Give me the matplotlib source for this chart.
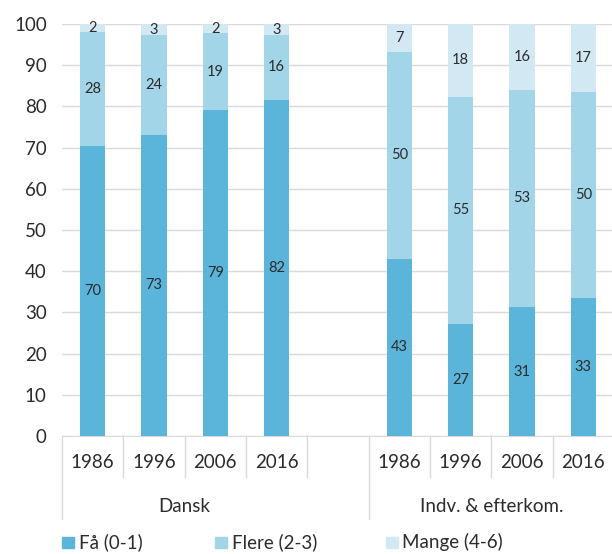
import matplotlib
matplotlib.use("Agg")
import matplotlib.pyplot as plt
from matplotlib.patches import Rectangle
from matplotlib.transforms import blended_transform_factory

plt.rcParams['font.family'] = ['Lato', 'DejaVu Sans']

years = ["1986", "1996", "2006", "2016"]
groups = ["Dansk", "Indv. & efterkom."]
series_names = ["Få (0-1)", "Flere (2-3)", "Mange (4-6)"]
colors = ["#5bb5da", "#a3d5e8", "#d2e9f3"]

# values per group, per year
dansk_faa = [70.4, 73.1, 79.1, 81.6]
dansk_flere = [27.7, 24.2, 18.7, 15.7]
dansk_mange = [1.9, 2.7, 2.2, 2.7]
indv_faa = [43.0, 27.2, 31.3, 33.4]
indv_flere = [50.2, 55.1, 52.7, 50.0]
indv_mange = [6.8, 17.7, 16.0, 16.6]

W, H = 612, 554
fig = plt.figure(figsize=(W / 100, H / 100), dpi=100)
ax = fig.add_axes([62 / W, (H - 436) / H, 552 / W, 412 / H])

positions = [0, 1, 2, 3, 5, 6, 7, 8]
faa = dansk_faa + indv_faa
flere = dansk_flere + indv_flere
mange = dansk_mange + indv_mange

text_col = "#2b2b2b"
bottom = [0] * len(positions)
for vals, col in zip([faa, flere, mange], colors):
    ax.bar(positions, vals, width=0.41, bottom=bottom, color=col, zorder=2)
    for x, b, v in zip(positions, bottom, vals):
        ax.text(x, b + v / 2, f"{v:.0f}", ha="center", va="center",
                fontsize=10.5, color=text_col, zorder=3)
    bottom = [b + v for b, v in zip(bottom, vals)]

ax.set_xlim(-0.5, 8.5)
ax.set_ylim(0, 100)
ax.set_yticks(range(0, 101, 10))
ax.tick_params(axis="y", length=0, pad=11, labelsize=13.5, labelcolor=text_col)
ax.tick_params(axis="x", length=0, labelbottom=False)
ax.set_xticks([])
ax.grid(axis="y", color="#d9d9d9", linewidth=1, zorder=0)
for s in ["left", "right", "top"]:
    ax.spines[s].set_visible(False)
ax.spines["bottom"].set_color("#d9d9d9")
ax.spines["bottom"].set_zorder(1)

trans = blended_transform_factory(ax.transData, ax.transAxes)
sep_col = "#d9d9d9"
for i in range(10):
    x = i - 0.5
    y_end = -0.2015 if x in (-0.5, 4.5, 8.5) else -0.0995
    ax.plot([x, x], [0, y_end], transform=trans, color=sep_col,
            linewidth=1, clip_on=False)

for x, y in zip(positions, years + years):
    ax.text(x, -0.0655, y, transform=trans, ha="center", va="center",
            fontsize=13.5, color=text_col)
ax.text(1.5, -0.17, groups[0], transform=trans, ha="center", va="center",
        fontsize=13.5, color=text_col)
ax.text(6.5, -0.17, groups[1], transform=trans, ha="center", va="center",
        fontsize=13.5, color=text_col)

# legend
sq_x = [62, 215, 386]
tx_x = [79, 232, 402]
for name, col, sx, tx in zip(series_names, colors, sq_x, tx_x):
    fig.add_artist(Rectangle((sx / W, 1 - 548 / H), 12 / W, 11 / H,
                             transform=fig.transFigure, color=col))
    fig.text(tx / W, 1 - 542 / H, name, ha="left", va="center",
             fontsize=13.5, color=text_col)

fig.savefig("out.png", dpi=100)
